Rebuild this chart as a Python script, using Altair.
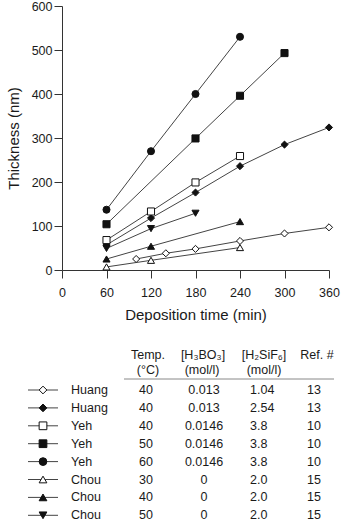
import altair as alt
import pandas as pd

# ---------------- data ----------------
series_keys = ["s0", "s1", "s2", "s3", "s4", "s5", "s6", "s7"]
names = ["Huang", "Huang", "Yeh", "Yeh", "Yeh", "Chou", "Chou", "Chou"]
temps = ["40", "40", "40", "50", "60", "30", "40", "50"]
h3bo3 = ["0.013", "0.013", "0.0146", "0.0146", "0.0146", "0", "0", "0"]
h2sif6 = ["1.04", "2.54", "3.8", "3.8", "3.8", "2.0", "2.0", "2.0"]
refs = ["13", "13", "10", "10", "10", "15", "15", "15"]
shapes = ["diamond", "diamond", "square", "square", "circle",
          "triangle-up", "triangle-up", "triangle-down"]
fills = ["open", "filled", "open", "filled", "filled", "open", "filled", "filled"]

times = [
    [100, 140, 180, 240, 300, 360],
    [60, 120, 180, 240, 300, 360],
    [60, 120, 180, 240],
    [60, 180, 240, 300],
    [60, 120, 180, 240],
    [60, 120, 240],
    [60, 120, 240],
    [60, 120, 180],
]
thickness = [
    [25, 38, 48, 66, 83, 97],
    [57, 118, 176, 236, 285, 324],
    [68, 133, 199, 259],
    [104, 299, 396, 493],
    [137, 270, 400, 530],
    [7, 22, 51],
    [25, 54, 110],
    [49, 94, 129],
]

x_ticks = list(range(0, 361, 30))
y_ticks = list(range(0, 601, 50))

# ---------------- tables built from arrays ----------------
rows = []
for k, ts, vs, fc in zip(series_keys, times, thickness, fills):
    for t, v in zip(ts, vs):
        rows.append({"series": k, "time": t, "thick": v, "fill": fc})
plot_df = pd.DataFrame(rows)

table_df = pd.DataFrame({
    "series": series_keys, "row": list(range(len(names))), "name": names,
    "temp": temps, "h3": h3bo3, "h2": h2sif6, "ref": refs, "fill": fills,
})

FONT = "Liberation Sans"
INK = "#1a1a1a"
LINE = "#444444"
TFS = 12.5

shape_scale = alt.Scale(domain=series_keys, range=shapes)
fill_scale = alt.Scale(domain=["open", "filled"], range=["white", "#111111"])

# ---------------- plot ----------------
xs = alt.Scale(domain=[0, 360], nice=False)
ys = alt.Scale(domain=[0, 600], nice=False)

x_axis = alt.Axis(
    values=x_ticks,
    labelExpr="datum.value % 60 == 0 ? datum.label : ''",
    tickSize={"condition": {"test": "datum.value % 60 === 0", "value": 8}, "value": 4},
    labelPadding=8, title="Deposition time (min)", titlePadding=9,
    grid=False, labelFlush=False,
)
y_axis = alt.Axis(
    values=y_ticks,
    labelExpr="datum.value % 100 == 0 ? datum.label : ''",
    tickSize={"condition": {"test": "datum.value % 100 === 0", "value": 8}, "value": 4},
    labelPadding=2, title="Thickness (nm)", titlePadding=10,
    grid=False, labelFlush=False,
)

base = alt.Chart(plot_df)
lines = base.mark_line(color=LINE, strokeWidth=1).encode(
    x=alt.X("time:Q", scale=xs, axis=x_axis),
    y=alt.Y("thick:Q", scale=ys, axis=y_axis),
    detail="series:N",
)
points = base.mark_point(filled=False, stroke="#111111", strokeWidth=1, opacity=1, size=50).encode(
    x=alt.X("time:Q", scale=xs),
    y=alt.Y("thick:Q", scale=ys),
    shape=alt.Shape("series:N", scale=shape_scale, legend=None),
    fill=alt.Fill("fill:N", scale=fill_scale, legend=None),
)
plot = alt.layer(lines, points).properties(width=267, height=264)

# ---------------- legend table ----------------
tbase = alt.Chart(table_df)
ty = alt.Scale(domain=[0, 7], range=[46, 171.3], nice=False, zero=False)
Y = alt.Y("row:Q", scale=ty, axis=None)

def col_text(field, xpos, align):
    return tbase.mark_text(font=FONT, fontSize=TFS, color=INK, align=align, baseline="middle").encode(
        x=alt.value(xpos), y=Y, text=f"{field}:N")

leg_lines = tbase.mark_rule(color=LINE, strokeWidth=1).encode(
    x=alt.value(-34), x2=alt.value(-4), y=Y)
leg_points = tbase.mark_point(filled=False, stroke="#111111", strokeWidth=1, opacity=1, size=60).encode(
    x=alt.value(-19), y=Y,
    shape=alt.Shape("series:N", scale=shape_scale, legend=None),
    fill=alt.Fill("fill:N", scale=fill_scale, legend=None),
)

headers = [
    ("Temp.", 86, 11), ("(°C)", 86, 26),
    ("[H₃BO₃]", 141, 11), ("(mol/l)", 140, 26),
    ("[H₂SiF₆]", 202, 11), ("(mol/l)", 202, 26),
    ("Ref. #", 255, 11),
]
hdr_layers = []
for txt, hx, hy in headers:
    hdr_layers.append(
        alt.Chart(pd.DataFrame({"t": [txt]})).mark_text(
            font=FONT, fontSize=TFS, color=INK, align="center", baseline="middle"
        ).encode(x=alt.value(hx), y=alt.value(hy), text="t:N")
    )
hline = alt.Chart(pd.DataFrame({"a": [0]})).mark_rule(color="#888888", strokeWidth=1).encode(
    x=alt.value(62), x2=alt.value(272), y=alt.value(35))

table = alt.layer(
    leg_lines, leg_points,
    col_text("name", 9, "left"),
    col_text("temp", 84, "center"),
    col_text("h3", 142, "center"),
    col_text("h2", 188, "left"),
    col_text("ref", 252, "center"),
    hline, *hdr_layers,
).properties(width=279, height=180)

chart = alt.vconcat(plot, table, spacing=74, bounds="flush").properties(
    padding={"left": 6, "top": 0, "right": 0, "bottom": 0}
).configure_view(stroke=None).configure_axis(
    labelFont=FONT, labelFontSize=12.5, labelColor=INK,
    titleFont=FONT, titleFontSize=15, titleFontWeight="normal", titleColor=INK,
    domainColor="#333333", tickColor="#333333", domainWidth=1, tickWidth=1,
).configure_concat(spacing=74)

chart.save("out.html", embed_options={"renderer": "svg", "actions": False})
